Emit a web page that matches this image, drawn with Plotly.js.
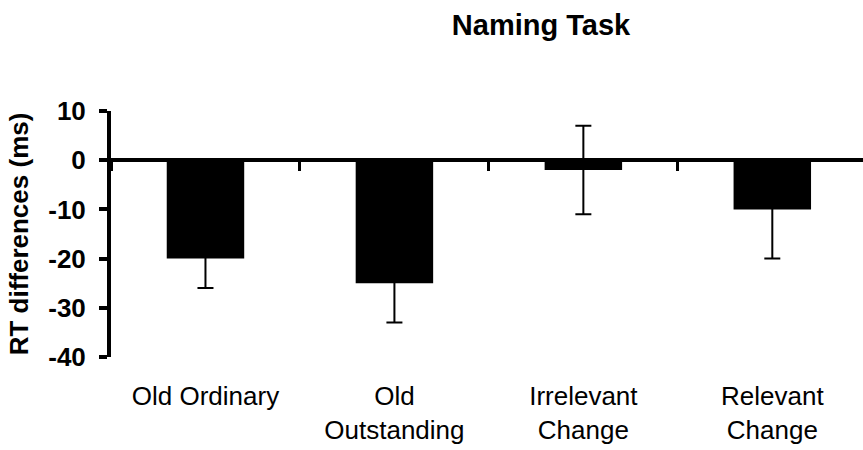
<!DOCTYPE html>
<html>
<head>
<meta charset="utf-8">
<script src="https://cdn.plot.ly/plotly-3.0.1.min.js"></script>
<style>html,body{margin:0;padding:0;background:#fff;}#chart{width:863px;height:450px;}</style>
</head>
<body>
<div id="chart"></div>
<script>
var categories = ["Old Ordinary", "Old<br>Outstanding", "Irrelevant<br>Change", "Relevant<br>Change"];
var rtDifferences = [-20, -25, -2, -10];
var errorValues = [6, 8, 9, 10];
var yTickValues = [10, 0, -10, -20, -30, -40];
var chartTitle = "Naming Task";
var yAxisTitle = "RT differences (ms)";

var FONT = "Liberation Sans, Arial, Helvetica, sans-serif";
var yRange = [-40, 10];

var bars = {
  type: "bar",
  x: categories,
  y: rtDifferences,
  marker: {color: "#000000", line: {width: 0}},
  error_y: {type: "data", array: errorValues, visible: true, color: "#000000", thickness: 2, width: 8},
  xaxis: "x",
  yaxis: "y",
  hoverinfo: "x+y",
  showlegend: false
};
var boundaryTrace = {
  type: "bar",
  x: categories,
  y: rtDifferences,
  marker: {color: "rgba(0,0,0,0)"},
  xaxis: "x2",
  yaxis: "y",
  hoverinfo: "skip",
  showlegend: false
};

var layout = {
  width: 863,
  height: 450,
  margin: {l: 111, r: 0, t: 111, b: 93, pad: 0, autoexpand: false},
  paper_bgcolor: "#ffffff",
  plot_bgcolor: "#ffffff",
  font: {family: FONT, color: "#000000"},
  bargap: 0.59,
  title: {
    text: chartTitle,
    font: {family: FONT, size: 29, weight: "bold", color: "#000000"},
    x: 541 / 863, xref: "container", xanchor: "center",
    y: 1 - 25 / 450, yref: "container", yanchor: "middle"
  },
  xaxis: {
    type: "category",
    range: [-0.5, 3.48],
    showline: false,
    showgrid: false,
    zeroline: false,
    ticks: "outside",
    ticklen: 16,
    tickcolor: "rgba(0,0,0,0)",
    tickfont: {family: FONT, size: 26, color: "#000000"},
    fixedrange: true
  },
  xaxis2: {
    type: "category",
    overlaying: "x",
    matches: "x",
    anchor: "free",
    position: (0 - yRange[0]) / (yRange[1] - yRange[0]),
    side: "bottom",
    showline: false,
    showgrid: false,
    zeroline: false,
    showticklabels: false,
    tickson: "boundaries",
    ticks: "outside",
    ticklen: 10,
    tickwidth: 3,
    tickcolor: "#000000"
  },
  yaxis: {
    range: yRange,
    tickvals: yTickValues,
    ticktext: yTickValues.map(String),
    showline: true,
    linewidth: 4,
    linecolor: "#000000",
    ticks: "outside",
    ticklen: 8,
    tickwidth: 4,
    tickcolor: "#000000",
    ticklabelstandoff: 8,
    showgrid: false,
    zeroline: true,
    zerolinewidth: 4,
    zerolinecolor: "#000000",
    tickfont: {family: FONT, size: 26, weight: "bold", color: "#000000"},
    automargin: true,
    title: {text: yAxisTitle, standoff: 13, font: {family: FONT, size: 26, weight: "bold", color: "#000000"}},
    fixedrange: true
  }
};

Plotly.newPlot("chart", [boundaryTrace, bars], layout, {displayModeBar: false, staticPlot: true});
</script>
</body>
</html>
